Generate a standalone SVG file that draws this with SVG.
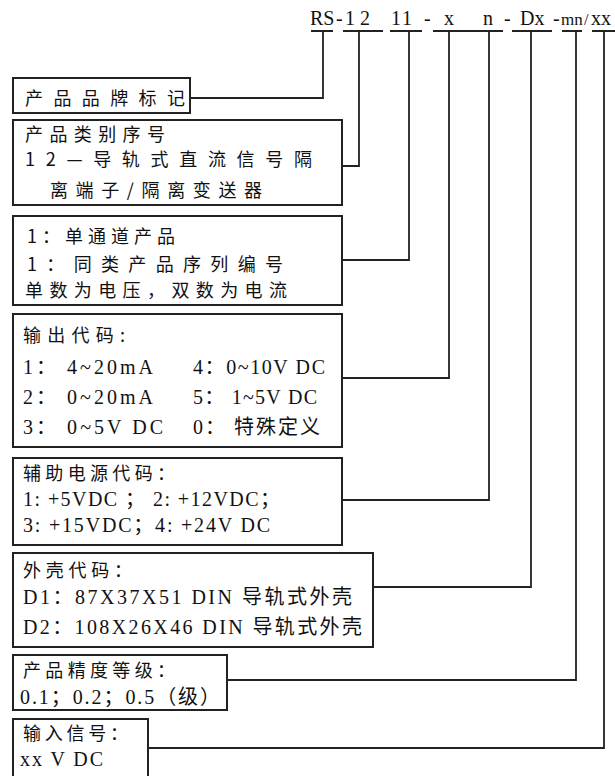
<svg xmlns="http://www.w3.org/2000/svg" width="615" height="776" viewBox="0 0 615 776">
<style>
.box{fill:#fff;stroke:#222;stroke-width:2}
.ln{fill:none;stroke:#222;stroke-width:1.8}
.t{font-family:"Liberation Serif","Noto Sans CJK SC",serif;font-size:20px;fill:#111}
.c{font-family:"Noto Sans CJK SC","Liberation Serif",sans-serif;font-size:18px;fill:#111}
.h{font-family:"Liberation Serif",serif;font-size:20px;fill:#111}
</style>
<rect width="615" height="776" fill="#fff"/>
<g id="header">
<text class="h" x="310" y="25">RS</text>
<text class="h" x="336" y="25">-</text>
<text class="h" x="345" y="25">1</text>
<text class="h" x="360" y="25">2</text>
<text class="h" x="391" y="25">1</text>
<text class="h" x="402" y="25">1</text>
<text class="h" x="424" y="25">-</text>
<text class="h" x="444" y="25">x</text>
<text class="h" x="483" y="25">n</text>
<text class="h" x="504" y="25">-</text>
<text class="h" x="520" y="25">Dx</text>
<text class="h" x="553" y="25">-</text>
<text class="h" x="561" y="25" style="font-size:17px">mn</text>
<text class="h" x="584" y="25" style="font-size:16px">/</text>
<text class="h" x="591" y="25">xx</text>
<path class="ln" d="M311 31H333M343 31H383M390 31H422M433 31H503M512 31H552M562 31H582M592 31H615"/>
</g>
<g id="connectors">
<path class="ln" d="M323 31V98H190"/>
<path class="ln" d="M359 31V166H342"/>
<path class="ln" d="M409 31V260H342"/>
<path class="ln" d="M449 31V378H342"/>
<path class="ln" d="M489 31V500H342"/>
<path class="ln" d="M531 31V587H373"/>
<path class="ln" d="M576 31V680H227"/>
<path class="ln" d="M604 31V748H148"/>
</g>
<g id="brand">
<rect class="box" x="13" y="78" width="177" height="35"/>
<text class="c" x="25" y="105" textLength="160" lengthAdjust="spacing">产品品牌标记</text>
</g>
<g id="category">
<rect class="box" x="13" y="120" width="329" height="85"/>
<text class="c" x="25" y="141" textLength="140" lengthAdjust="spacing">产品类别序号</text>
<text class="c" x="25" y="166" textLength="287" lengthAdjust="spacing">12—导轨式直流信号隔</text>
<text class="c" x="50" y="197" textLength="212" lengthAdjust="spacing">离端子/隔离变送器</text>
</g>
<g id="channel">
<rect class="box" x="13" y="216" width="329" height="89"/>
<text class="c" x="27" y="243" textLength="148" lengthAdjust="spacing">1：单通道产品</text>
<text class="c" x="27" y="271" textLength="256" lengthAdjust="spacing">1：同类产品序列编号</text>
<text class="c" x="25" y="297" textLength="262" lengthAdjust="spacing">单数为电压，双数为电流</text>
</g>
<g id="output">
<rect class="box" x="13" y="314" width="329" height="133"/>
<text class="c" x="23" y="342" textLength="102" lengthAdjust="spacing">输出代码:</text>
<text class="t" x="23" y="374" textLength="130" lengthAdjust="spacing">1： 4~20mA</text>
<text class="t" x="193" y="374" textLength="132" lengthAdjust="spacing">4：0~10V DC</text>
<text class="t" x="23" y="404" textLength="130" lengthAdjust="spacing">2： 0~20mA</text>
<text class="t" x="193" y="404" textLength="124" lengthAdjust="spacing">5： 1~5V DC</text>
<text class="t" x="23" y="434" textLength="140" lengthAdjust="spacing">3： 0~5V DC</text>
<text class="t" x="193" y="434" textLength="127" lengthAdjust="spacing">0： 特殊定义</text>
</g>
<g id="power">
<rect class="box" x="13" y="458" width="329" height="87"/>
<text class="c" x="23" y="480" textLength="152" lengthAdjust="spacing">辅助电源代码：</text>
<text class="t" x="23" y="506" textLength="257" lengthAdjust="spacing">1: +5VDC ； 2: +12VDC；</text>
<text class="t" x="23" y="532" textLength="247" lengthAdjust="spacing">3: +15VDC；4: +24V DC</text>
</g>
<g id="housing">
<rect class="box" x="13" y="553" width="360" height="94"/>
<text class="c" x="23" y="577" textLength="109" lengthAdjust="spacing">外壳代码：</text>
<text class="t" x="23" y="604" textLength="329" lengthAdjust="spacing">D1：87X37X51 DIN 导轨式外壳</text>
<text class="t" x="23" y="634" textLength="339" lengthAdjust="spacing">D2：108X26X46  DIN 导轨式外壳</text>
</g>
<g id="accuracy">
<rect class="box" x="13" y="655" width="214" height="55"/>
<text class="c" x="23" y="677" textLength="152" lengthAdjust="spacing">产品精度等级：</text>
<text class="t" x="20" y="704" textLength="200" lengthAdjust="spacing">0.1；0.2；0.5（级）</text>
</g>
<g id="input">
<rect class="box" x="13" y="719" width="135" height="70"/>
<text class="c" x="23" y="740" textLength="105" lengthAdjust="spacing">输入信号：</text>
<text class="t" x="20" y="766" textLength="83" lengthAdjust="spacing">xx V DC</text>
</g>
</svg>
